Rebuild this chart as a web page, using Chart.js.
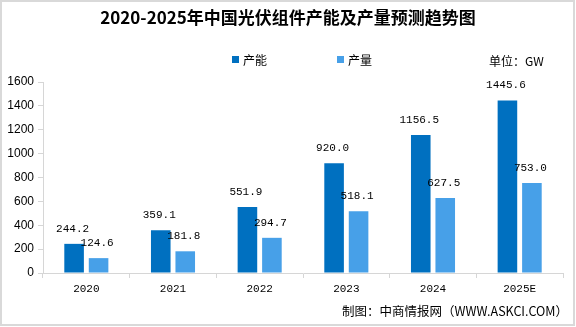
<!DOCTYPE html>
<html>
<head>
<meta charset="utf-8">
<script src="https://cdn.jsdelivr.net/npm/chart.js@4/dist/chart.umd.min.js"></script>
<style>
  html, body { margin: 0; padding: 0; background: #ffffff; }
  #wrap { width: 576px; height: 327px; position: relative; }
</style>
</head>
<body>
<div id="wrap"><canvas id="c" width="576" height="327"></canvas></div>
<script>
// 2020-2025 photovoltaic module capacity and output (GW)
const years = ['2020', '2021', '2022', '2023', '2024', '2025E'];
const capacity = [244.2, 359.1, 551.9, 920.0, 1156.5, 1445.6];
const output = [124.6, 181.8, 294.7, 518.1, 627.5, 753.0];
const seriesNames = ['产能', '产量'];
const titleText = '2020-2025年中国光伏组件产能及产量预测趋势图';
const unitText = '单位：GW';
const sourceText = '制图：中商情报网（WWW.ASKCI.COM）';

const DARK = '#0070C0';
const LIGHT = '#47A0E8';
const AXIS = '#d6d6d6';
const CJK = '"Noto Sans CJK SC", "Noto Sans", sans-serif';
const MONO = '"Liberation Mono", "DejaVu Sans Mono", monospace';

// Frame, title, legend, unit note, source line and value labels
const decorations = {
  id: 'decorations',
  beforeDraw(chart) {
    const ctx = chart.ctx;
    ctx.save();
    ctx.fillStyle = '#ffffff';
    ctx.fillRect(0, 0, chart.width, chart.height);
    ctx.strokeStyle = '#d9d9d9';
    ctx.lineWidth = 2;
    ctx.strokeRect(1, 1, 573, 324);
    ctx.restore();
  },
  afterDraw(chart) {
    const ctx = chart.ctx;
    ctx.save();
    // title
    ctx.fillStyle = '#000000';
    ctx.font = 'bold 17px ' + CJK;
    ctx.textAlign = 'center';
    ctx.textBaseline = 'middle';
    ctx.fillText(titleText, 288, 18);

    // legend
    const legendX = [232, 337];
    ctx.font = '12px ' + CJK;
    ctx.textAlign = 'left';
    chart.data.datasets.forEach((ds, i) => {
      ctx.fillStyle = ds.backgroundColor;
      ctx.fillRect(legendX[i], 56, 7, 7);
      ctx.fillStyle = '#000000';
      ctx.fillText(ds.label, legendX[i] + 11, 60);
    });

    // unit
    ctx.fillText(unitText, 489, 61);

    // source
    ctx.font = '12.5px ' + CJK;
    ctx.textAlign = 'right';
    ctx.fillText(sourceText, 568, 311);

    // value labels above each bar
    ctx.font = '11px ' + MONO;
    ctx.textAlign = 'center';
    ctx.textBaseline = 'middle';
    chart.data.datasets.forEach((ds, i) => {
      const meta = chart.getDatasetMeta(i);
      meta.data.forEach((bar, j) => {
        ctx.fillText(ds.data[j].toFixed(1), bar.x - 1.5, bar.y - 15);
      });
    });
    ctx.restore();
  }
};

new Chart(document.getElementById('c'), {
  type: 'bar',
  data: {
    labels: years,
    datasets: [
      { label: seriesNames[0], data: capacity, backgroundColor: DARK },
      { label: seriesNames[1], data: output, backgroundColor: LIGHT }
    ]
  },
  options: {
    responsive: false,
    animation: false,
    events: [],
    categoryPercentage: 0.565,
    barPercentage: 0.8,
    layout: { padding: { left: 0, top: 82, right: 13, bottom: 0 } },
    plugins: {
      legend: { display: false },
      title: { display: false },
      tooltip: { enabled: false }
    },
    scales: {
      x: {
        afterFit(scale) { scale.height = 54; },
        grid: {
          display: true,
          drawOnChartArea: false,
          drawTicks: true,
          tickLength: 5,
          color: AXIS,
          offset: true
        },
        border: { display: true, color: AXIS, width: 1 },
        ticks: {
          color: '#000000',
          font: { family: MONO, size: 11 },
          padding: 4
        }
      },
      y: {
        min: 0,
        max: 1600,
        afterFit(scale) { scale.width = 43; },
        grid: {
          display: true,
          drawOnChartArea: false,
          drawTicks: true,
          tickLength: 5,
          color: AXIS
        },
        border: { display: true, color: AXIS, width: 1 },
        ticks: {
          stepSize: 200,
          color: '#000000',
          font: { family: '"Liberation Sans", Arial, sans-serif', size: 12 },
          padding: 4,
          callback: (v) => String(v)
        }
      }
    }
  },
  plugins: [decorations]
});
</script>
</body>
</html>
